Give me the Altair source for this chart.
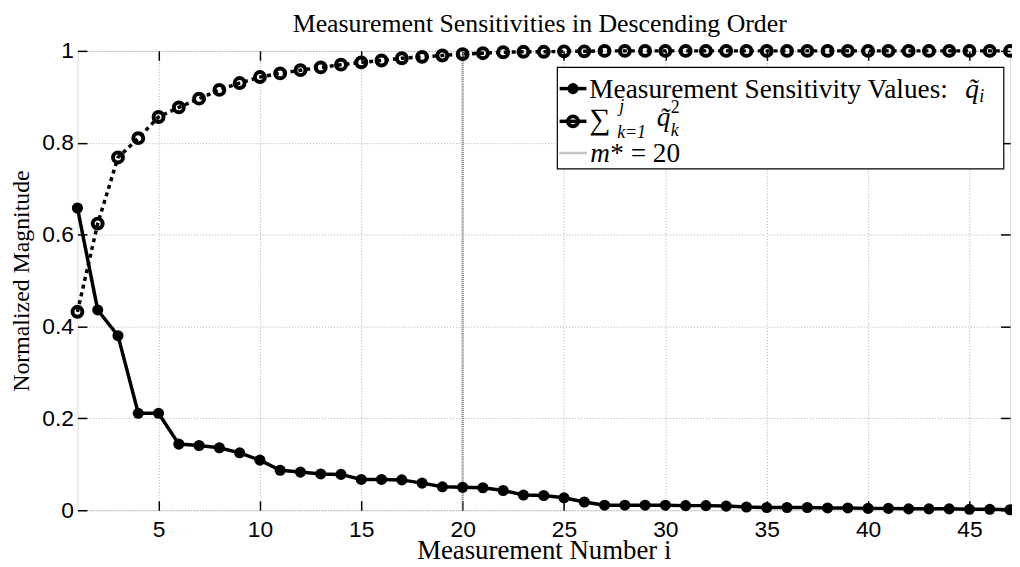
import altair as alt
import pandas as pd

# ---------------- data ----------------
measurement = list(range(1, 48))
sensitivity = [0.658, 0.436, 0.380, 0.211, 0.211, 0.144, 0.141, 0.136, 0.125, 0.109,
               0.087, 0.083, 0.079, 0.078, 0.067, 0.067, 0.066, 0.059, 0.051, 0.050,
               0.049, 0.043, 0.033, 0.032, 0.027, 0.018, 0.011, 0.011, 0.011, 0.011,
               0.010, 0.010, 0.009, 0.007, 0.006, 0.006, 0.006, 0.005, 0.005, 0.004,
               0.004, 0.003, 0.003, 0.003, 0.002, 0.002, 0.001]
cumulative = [0.432, 0.624, 0.768, 0.810, 0.856, 0.877, 0.896, 0.915, 0.930, 0.943,
              0.951, 0.958, 0.964, 0.970, 0.975, 0.979, 0.984, 0.987, 0.990, 0.993,
              0.995, 0.997, 0.998, 0.998, 0.999, 0.999, 1.000, 1.000, 1.000, 1.000,
              1.000, 1.000, 1.000, 1.000, 1.000, 1.000, 1.000, 1.000, 1.000, 1.000,
              1.000, 1.000, 1.000, 1.000, 1.000, 1.000, 1.000]
m_star = [20]
x_ticks = [5, 10, 15, 20, 25, 30, 35, 40, 45]
y_ticks = [0, 0.2, 0.4, 0.6, 0.8, 1]
title_text = "Measurement Sensitivities in Descending Order"
x_title = "Measurement Number i"
y_title = "Normalized Magnitude"
legend_text = ["Measurement Sensitivity Values:", "q\u0303", "i",
               "\u2211", "j", "k=1", "q\u0303", "2", "k",
               "m", "* = 20"]

df = pd.DataFrame({"i": measurement, "q": sensitivity, "cum": cumulative})
df_m = pd.DataFrame({"m": m_star})
one = pd.DataFrame({"k": [0]})

SERIF = "Liberation Serif"
SANS = "Liberation Sans"
W, H = 940, 463
TK = 9.5

xs = alt.Scale(domain=[1, 47], nice=False, zero=False)
ys = alt.Scale(domain=[0, 1], nice=False, zero=False)

ax_x_main = alt.Axis(values=x_ticks, ticks=False, tickSize=0, domain=False, grid=True,
                     gridColor="#b0b0b0", gridDash=[1, 2], gridWidth=1,
                     labelFont=SANS, labelFontSize=23, labelColor="black", labelPadding=8,
                     labelBaseline="top",
                     title=x_title, titleFont=SERIF, titleFontSize=27, titleFontWeight="normal",
                     titleColor="black", titleBaseline="alphabetic", titleY=49,
                     titleX=W / 2, titleAlign="center")
ax_y_main = alt.Axis(values=y_ticks, format="~g", ticks=False, tickSize=0, domain=False, grid=True,
                     gridColor="#b0b0b0", gridDash=[1, 2], gridWidth=1,
                     labelFont=SANS, labelFontSize=23, labelColor="black", labelPadding=4,
                     title=y_title, titleFont=SERIF, titleFontSize=24, titleFontWeight="normal",
                     titleColor="black", titleAngle=270, titleBaseline="alphabetic",
                     titleX=-49, titleY=H / 2, titleAlign="center")


def tick_axis(values, orient):
    return alt.Axis(values=values, orient=orient, labels=False, ticks=True, tickSize=TK,
                    tickColor="black", tickWidth=1.5, domain=False, grid=False,
                    offset=-TK, title=None)


base = alt.Chart(df)

line_q = base.mark_line(color="black", strokeWidth=3.5).encode(
    x=alt.X("i:Q", scale=xs, axis=ax_x_main),
    y=alt.Y("q:Q", scale=ys, axis=ax_y_main),
)
pts_q = base.mark_point(shape="circle", filled=True, color="black", size=125, opacity=1).encode(
    x=alt.X("i:Q", scale=xs, axis=tick_axis(x_ticks, "bottom")),
    y=alt.Y("q:Q", scale=ys, axis=tick_axis(y_ticks, "left")),
)
line_c = base.mark_line(color="black", strokeWidth=3.5, strokeDash=[4, 4]).encode(
    x=alt.X("i:Q", scale=xs, axis=tick_axis(x_ticks, "top")),
    y=alt.Y("cum:Q", scale=ys, axis=tick_axis(y_ticks, "right")),
)
pts_c = base.mark_point(shape="circle", filled=False, color="black", size=100,
                        strokeWidth=4, opacity=1).encode(
    x=alt.X("i:Q", scale=xs, axis=None),
    y=alt.Y("cum:Q", scale=ys, axis=None),
)
rule_m = alt.Chart(df_m).mark_rule(color="#8a8a8a", strokeWidth=2.5, strokeDash=[1, 1]).encode(
    x=alt.X("m:Q", scale=xs, axis=None)
)


def txt(s, x, y, size, italic=False, align="left"):
    return alt.Chart(one).mark_text(align=align, baseline="alphabetic", font=SERIF,
                                    fontSize=size, fontStyle="italic" if italic else "normal",
                                    color="black").encode(
        x=alt.value(x), y=alt.value(y), text=alt.value(s))


# chart title (placed above the plot area)
title_mark = txt(title_text, W / 2 - 4, -19, 26, align="center")

# ---------------- legend (drawn in plot pixel space) ----------------
LX0, LX1, LY0, LY1 = 483.7, 933.7, 16.7, 119
leg_box = alt.Chart(one).mark_rect(fill="white", stroke="black", strokeWidth=1.2).encode(
    x=alt.value(LX0), x2=alt.value(LX1), y=alt.value(LY0), y2=alt.value(LY1))


def sym_line(y, dash=None, color="black", width=3.5):
    kw = dict(color=color, strokeWidth=width)
    if dash:
        kw["strokeDash"] = dash
    return alt.Chart(one).mark_rule(**kw).encode(
        x=alt.value(486), x2=alt.value(513), y=alt.value(y))


def sym_pt(y, filled):
    if filled:
        m = alt.Chart(one).mark_point(shape="circle", filled=True, color="black", size=125, opacity=1)
    else:
        m = alt.Chart(one).mark_point(shape="circle", filled=False, color="black", size=100,
                                      strokeWidth=4, opacity=1)
    return m.encode(x=alt.value(499.5), y=alt.value(y))


legend_layers = [
    leg_box,
    sym_line(38), sym_pt(38, True),
    txt(legend_text[0], 516, 47, 27.5),
    txt(legend_text[1], 895, 47, 27.5, True),
    txt(legend_text[2], 909, 52, 18, True),
    sym_line(71), sym_pt(71, False),
    txt(legend_text[3], 516, 79, 30),
    txt(legend_text[4], 546, 62, 18, True),
    txt(legend_text[5], 544, 88, 18, True),
    txt(legend_text[6], 584, 76, 27.5, True),
    txt(legend_text[7], 598, 63, 18),
    txt(legend_text[8], 598, 86, 18, True),
    sym_line(103, dash=[1, 1], color="#8a8a8a", width=2.5),
    txt(legend_text[9], 517, 112, 27.5, True),
    txt(legend_text[10], 537, 112, 27.5),
]

chart = alt.layer(rule_m, line_q, pts_q, line_c, pts_c, title_mark, *legend_layers).resolve_axis(
    x="independent", y="independent"
).properties(
    width=W, height=H,
    padding={"left": 70, "top": 41, "right": 2, "bottom": 55},
    autosize=alt.AutoSizeParams(type="none"),
).configure_view(stroke="black", strokeWidth=1.5).configure(background="white")

chart.save("out.html", embed_options={"renderer": "svg", "actions": False})
